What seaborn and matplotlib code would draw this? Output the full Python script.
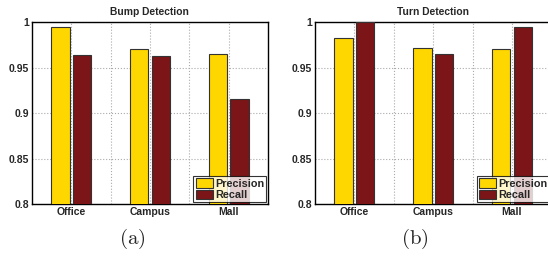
import pandas as pd
import matplotlib
matplotlib.use('Agg')
import matplotlib.pyplot as plt
import seaborn as sns
from matplotlib.ticker import FixedLocator, FuncFormatter

# dados
locais = ['Office', 'Campus', 'Mall']
metricas = ['Precision', 'Recall']
bump_precision = [0.994, 0.970, 0.965]
bump_recall = [0.964, 0.963, 0.915]
turn_precision = [0.9825, 0.9715, 0.970]
turn_recall = [0.9997, 0.9645, 0.995]
titulos = ['Bump Detection', 'Turn Detection']
legendas = ['(a)', '(b)']

cores = ['#FFD700', '#7B1518']


def monta_df(prec, rec):
    return pd.DataFrame({
        'local': locais * 2,
        'metrica': [metricas[0]] * 3 + [metricas[1]] * 3,
        'valor': prec + rec,
    })


sns.set_theme(style='white')
plt.rcParams['font.family'] = ['Liberation Sans', 'DejaVu Sans']
plt.rcParams['mathtext.fontset'] = 'cm'

fig = plt.figure(figsize=(5.48, 2.59), dpi=100)
ax1 = fig.add_axes([0.058, 0.212, 0.431, 0.703])
ax2 = fig.add_axes([0.575, 0.212, 0.431, 0.703])

dados = [monta_df(bump_precision, bump_recall), monta_df(turn_precision, turn_recall)]

for ax, df, titulo, leg in zip([ax1, ax2], dados, titulos, legendas):
    sns.barplot(data=df, x='local', y='valor', hue='metrica', order=locais,
                hue_order=metricas, palette=cores, width=0.55, gap=0.15,
                edgecolor='#333333', linewidth=0.8, saturation=1, ax=ax, zorder=3)
    ax.set_xlim(-0.5, 2.5)
    ax.set_ylim(0.8, 1.0)
    ax.set_xlabel('')
    ax.set_ylabel('')
    ax.set_title(titulo, fontsize=7.4, fontweight='bold', pad=5)
    ax.yaxis.set_major_locator(FixedLocator([0.8, 0.85, 0.9, 0.95, 1.0]))
    ax.yaxis.set_major_formatter(FuncFormatter(lambda v, p: '%g' % round(v, 2)))
    ax.xaxis.set_minor_locator(FixedLocator([0.5, 1.5]))
    ax.grid(True, which='both', linestyle=':', color='#aaaaaa', linewidth=0.8, zorder=0)
    ax.set_axisbelow(True)
    ax.tick_params(axis='both', which='both', direction='in', length=3, width=0.8,
                   labelsize=7.5, pad=2, color='black')
    ax.tick_params(axis='x', which='minor', length=0)
    for lab in ax.get_xticklabels() + ax.get_yticklabels():
        lab.set_fontweight('bold')
    for s in ax.spines.values():
        s.set_color('black')
        s.set_linewidth(1.0)
    lg = ax.legend(loc='lower right', fontsize=7.5, frameon=True, fancybox=False,
                   borderpad=0.2, handlelength=1.6, handleheight=1.0, handletextpad=0.2,
                   labelspacing=0.1, borderaxespad=0.15, prop={'weight': 'bold', 'size': 7.8})
    lg.get_frame().set_edgecolor('black')
    lg.get_frame().set_linewidth(0.8)
    lg.set_zorder(5)
    pos = ax.get_position()
    fig.text(pos.x0 + pos.width / 2 - 0.033, 0.03, r'$\mathrm{' + leg + '}$',
             ha='center', va='bottom', fontsize=15)

fig.savefig('out.png', dpi=100)
